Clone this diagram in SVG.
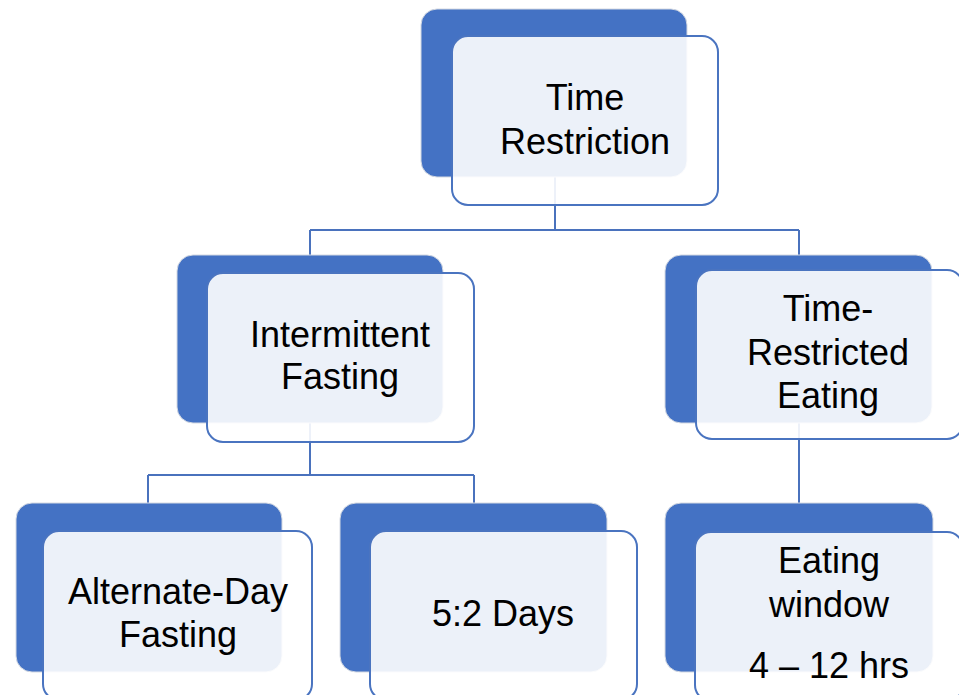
<svg xmlns="http://www.w3.org/2000/svg" width="959" height="695" viewBox="0 0 959 695">
<style>
.back{fill:#4472c4;stroke:#d4d9e2;stroke-width:1}
.front{fill:#ffffff;fill-opacity:0.9;stroke:#4a74c0;stroke-width:2}
.conn{fill:none;stroke:#4a72bd;stroke-width:2}
text{font-family:"Liberation Sans",Arial,sans-serif;font-size:36px;fill:#000;text-anchor:middle}
</style>
<rect width="959" height="695" fill="#ffffff"/>
<g id="connectors">
<path class="conn" d="M555,177 V230 M310,230 H799 M310,230 V255 M799,230 V255"/>
<path class="conn" d="M310,423 V475 M148,475 H474 M148,475 V503 M474,475 V503"/>
<path class="conn" d="M799,423 V503"/>
</g>
<g id="node-time-restriction">
<rect class="back" x="421" y="9" width="266" height="168" rx="16"/>
<rect class="front" x="452" y="36" width="266" height="169" rx="16"/>
<text x="585" y="110">Time</text>
<text x="585" y="154">Restriction</text>
</g>
<g id="node-intermittent-fasting">
<rect class="back" x="177" y="255" width="266" height="168" rx="16"/>
<rect class="front" x="207" y="273" width="267" height="169" rx="16"/>
<text x="340" y="347">Intermittent</text>
<text x="340" y="389">Fasting</text>
</g>
<g id="node-time-restricted-eating">
<rect class="back" x="665" y="255" width="267" height="168" rx="16"/>
<rect class="front" x="696" y="270" width="267" height="169" rx="16"/>
<text x="828" y="321">Time-</text>
<text x="828" y="365">Restricted</text>
<text x="828" y="408">Eating</text>
</g>
<g id="node-alternate-day-fasting">
<rect class="back" x="16" y="503" width="266" height="169" rx="16"/>
<rect class="front" x="43" y="531" width="269" height="169" rx="16"/>
<text x="178" y="604">Alternate-Day</text>
<text x="178" y="647">Fasting</text>
</g>
<g id="node-5-2-days">
<rect class="back" x="340" y="503" width="267" height="169" rx="16"/>
<rect class="front" x="370" y="531" width="267" height="169" rx="16"/>
<text x="503" y="626">5:2 Days</text>
</g>
<g id="node-eating-window">
<rect class="back" x="665" y="503" width="268" height="169" rx="16"/>
<rect class="front" x="695" y="532" width="268" height="169" rx="16"/>
<text x="829" y="573">Eating</text>
<text x="829" y="617">window</text>
<text x="829" y="678">4 – 12 hrs</text>
</g>
</svg>
